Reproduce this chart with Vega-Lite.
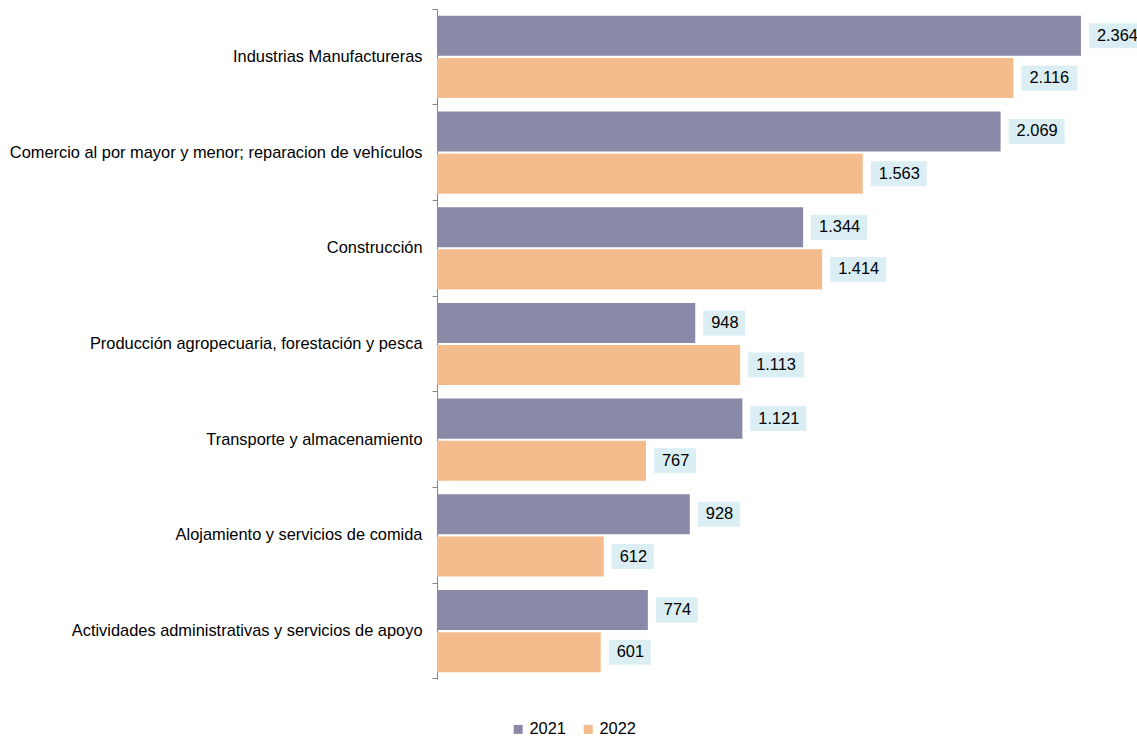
{
  "$schema": "https://vega.github.io/schema/vega-lite/v6.json",
  "width": 681,
  "height": 670,
  "padding": {"left": 0, "top": 1, "right": 0, "bottom": 0},
  "background": "white",
  "config": {
    "view": {"stroke": null},
    "font": "Liberation Sans",
    "locale": {"number": {"decimal": ",", "thousands": ".", "grouping": [3], "currency": ["", " €"]}}
  },
  "data": {
    "values": [
      {"sector": "Industrias Manufactureras", "year": "2021", "value": 2364},
      {"sector": "Industrias Manufactureras", "year": "2022", "value": 2116},
      {"sector": "Comercio al por mayor y menor; reparacion de vehículos", "year": "2021", "value": 2069},
      {"sector": "Comercio al por mayor y menor; reparacion de vehículos", "year": "2022", "value": 1563},
      {"sector": "Construcción", "year": "2021", "value": 1344},
      {"sector": "Construcción", "year": "2022", "value": 1414},
      {"sector": "Producción agropecuaria, forestación y pesca", "year": "2021", "value": 948},
      {"sector": "Producción agropecuaria, forestación y pesca", "year": "2022", "value": 1113},
      {"sector": "Transporte y almacenamiento", "year": "2021", "value": 1121},
      {"sector": "Transporte y almacenamiento", "year": "2022", "value": 767},
      {"sector": "Alojamiento y servicios de comida", "year": "2021", "value": 928},
      {"sector": "Alojamiento y servicios de comida", "year": "2022", "value": 612},
      {"sector": "Actividades administrativas y servicios de apoyo", "year": "2021", "value": 774},
      {"sector": "Actividades administrativas y servicios de apoyo", "year": "2022", "value": 601}
    ]
  },
  "encoding": {
    "y": {
      "field": "sector",
      "type": "nominal",
      "sort": null,
      "title": null,
      "scale": {"paddingInner": 0, "paddingOuter": 0},
      "axis": {
        "bandPosition": 1,
        "tickExtra": true,
        "domainColor": "#868686",
        "tickColor": "#868686",
        "tickSize": 5,
        "labelPadding": 10,
        "labelFontSize": 16.4,
        "labelColor": "#000000",
        "labelLimit": 600,
        "minExtent": 437,
        "maxExtent": 437
      }
    },
    "yOffset": {
      "field": "year",
      "type": "nominal",
      "scale": {"paddingInner": 0.05, "paddingOuter": 0.16}
    },
    "x": {
      "field": "value",
      "type": "quantitative",
      "scale": {"domain": [0, 2500]},
      "axis": null
    }
  },
  "layer": [
    {
      "mark": {"type": "bar"},
      "encoding": {
        "color": {
          "field": "year",
          "type": "nominal",
          "scale": {"domain": ["2021", "2022"], "range": ["#8a89a8", "#f4bc8c"]},
          "legend": {
            "title": null,
            "orient": "none",
            "direction": "horizontal",
            "legendX": 73,
            "legendY": 712,
            "symbolType": "square",
            "symbolSize": 81,
            "symbolStrokeWidth": 0,
            "labelFontSize": 16.4,
            "labelColor": "#000000",
            "labelOffset": 3,
            "columnPadding": 14,
            "padding": 0
          }
        }
      }
    },
    {
      "transform": [{"filter": "datum.value >= 1000"}],
      "mark": {"type": "point", "filled": true, "color": "#daeef3", "opacity": 1, "size": 3136, "shape": "M-1,-0.446H1V0.446H-1Z", "xOffset": 36}
    },
    {
      "transform": [{"filter": "datum.value < 1000"}],
      "mark": {"type": "point", "filled": true, "color": "#daeef3", "opacity": 1, "size": 3136, "shape": "M-0.75,-0.446H0.75V0.446H-0.75Z", "xOffset": 29}
    },
    {
      "mark": {"type": "text", "align": "left", "baseline": "middle", "dx": 16, "fontSize": 16.4, "color": "#000000"},
      "encoding": {"text": {"field": "value", "type": "quantitative", "format": ",d"}}
    }
  ]
}
